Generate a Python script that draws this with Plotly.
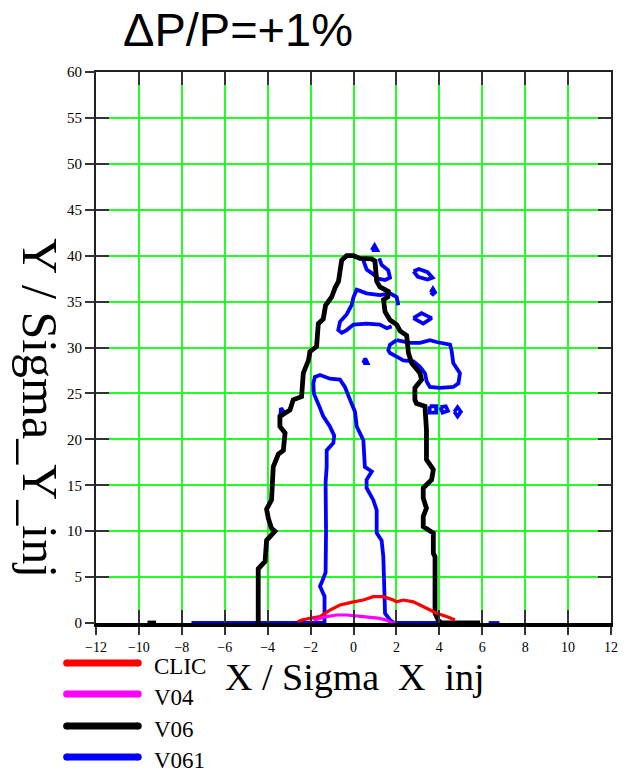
import plotly.graph_objects as go

# ---------------- data ----------------
x_ticks = [-12, -10, -8, -6, -4, -2, 0, 2, 4, 6, 8, 10, 12]
y_ticks = [0, 5, 10, 15, 20, 25, 30, 35, 40, 45, 50, 55, 60]

series_names = ["CLIC", "V04", "V06", "V061"]
series_colors = ["#ff0000", "#ff00ff", "#000000", "#0000ff"]

clic_x = [-2.6, -2.42, -2.03, -1.56, -1.1, -0.63, 0.0, 0.46, 0.92, 1.39, 1.86, 2.0, 2.32, 2.79, 3.41, 3.87, 4.34, 4.73]
clic_y = [0.15, 0.33, 0.5, 0.7, 1.4, 1.96, 2.3, 2.5, 2.87, 2.87, 2.5, 2.3, 2.5, 2.3, 1.6, 1.06, 0.7, 0.33]

v04_x = [-1.87, -1.25, -0.79, -0.32, 0.46, 1.23, 1.55, 1.78, 2.0]
v04_y = [0.3, 0.7, 0.87, 0.87, 0.7, 0.5, 0.3, 0.05, 0.0]

v06_x = [-9.6, -9.2, None,
         5.9, 4.1, 3.95, 3.8, 3.8, 3.72, 3.72, 3.25, 3.25, 3.4, 3.25, 3.25, 3.64, 3.72, 3.4, 3.4,
         3.33, 2.94, 2.86, 2.86, 3.17, 3.1, 2.71, 2.56, 2.48, 2.17, 2.01, 1.7, 1.47, 1.4, 1.6,
         1.62, 1.23, 1.08, 1.0, 0.85, 0.3, 0.0, -0.32, -0.55, -0.63, -0.7, -0.86, -1.02, -1.3,
         -1.41, -1.64, -1.72, -2.03, -2.1, -2.34, -2.42, -2.81, -2.96, -3.43, -3.43, -3.19,
         -3.27, -3.5, -3.74, -3.82, -4.05, -3.97, -3.82, -3.66, -4.05, -4.12, -4.28, -4.44, -4.44, -4.44]
v06_y = [0.0, 0.0, None,
         0.0, 0.0, 0.3, 1.06, 7.2, 7.6, 9.8, 10.5, 11.6, 12.5, 13.6, 14.7, 15.6, 16.7, 17.8, 21.0,
         23.6, 23.9, 24.3, 25.6, 26.5, 27.2, 28.3, 29.4, 31.3, 31.8, 32.5, 33.0, 33.9, 35.2, 35.5,
         36.1, 36.6, 37.2, 39.4, 39.65, 39.7, 40.0, 40.0, 39.5, 38.3, 37.2, 36.5, 35.5, 34.6,
         33.1, 32.6, 30.1, 29.55, 28.6, 27.2, 24.65, 24.3, 23.2, 22.5, 21.4, 20.7,
         18.8, 18.4, 17.0, 13.4, 12.4, 11.4, 10.3, 10.0, 9.0, 6.7, 6.3, 5.9, 0.5, 0.0]

v061_x = [
    # main strip with base line
    -7.55, -1.35, -1.35, -1.56, -1.45, -1.3, -1.28, -1.3, -1.25, -1.25, -0.94, -0.9, -1.1, -1.41,
    -1.56, -1.72, -1.85, -1.87, -1.8, -1.56, -1.1, -0.63, -0.4, -0.16, 0.07, 0.15, 0.46, 0.53,
    0.85, 0.61, 0.61, 0.92, 1.08, 1.08, 1.31, 1.39, 1.47, 1.7, 1.86, 4.0, None,
    6.3, 6.8, None,
    # loop round the black top corner
    0.46, 0.61, 0.85, 1.16, 1.47, 1.7, 1.62, 1.31, 1.2, None,
    # blob at the top
    0.85, 0.98, 1.1, 0.85, None,
    # middle horizontal loop
    2.09, 2.01, 1.7, 1.23, 0.61, 0.15, 0.0, -0.09, -0.32, -0.63, -0.71, -0.55, -0.32, 0.0, 0.61,
    1.23, 1.55, 1.78, None,
    # upper right oval
    2.8, 3.05, 3.45, 3.68, 3.45, 3.0, 2.8, None,
    # small blob
    3.6, 3.7, 3.8, 3.7, 3.6, None,
    # lower right oval
    2.79, 3.17, 3.64, 3.25, 2.79, None,
    # right structure
    2.01, 2.63, 3.1, 3.56, 3.87, 4.5, 4.57, 4.65, 4.96, 4.89, 4.65, 4.03, 3.56, 3.41, 3.33, 3.1,
    2.79, 2.32, 2.01, 1.7, 1.62, 1.7, 2.01, None,
    # three small loops
    3.55, 3.85, 3.85, 3.55, 3.55, None,
    4.05, 4.3, 4.4, 4.15, 4.05, None,
    4.7, 4.85, 5.0, 4.85, 4.7, None,
    # small mark on the left
    -3.42, -3.38, -3.25, None,
    # dot
    0.45, 0.55, 0.65, 0.45,
]
v061_y = [
    0.0, 0.0, 2.9, 4.0, 4.6, 5.5, 10.0, 15.3, 17.0, 18.8, 19.6, 20.4, 21.4, 22.5,
    23.4, 24.3, 25.0, 26.1, 26.8, 27.0, 26.6, 26.5, 25.7, 24.3, 23.0, 21.4, 19.9, 17.0,
    16.5, 15.6, 14.7, 13.4, 12.3, 9.8, 9.0, 7.2, 1.06, 0.33, 0.05, 0.0, None,
    0.0, 0.0, None,
    39.5, 38.5, 38.1, 37.5, 37.35, 37.6, 38.4, 39.0, 39.7, None,
    40.6, 41.1, 40.6, 40.6, None,
    34.6, 35.5, 35.9, 35.7, 35.9, 36.3, 35.5, 34.6, 33.6, 32.8, 31.9, 31.6, 31.9, 32.5, 32.6,
    32.5, 32.1, 32.3, None,
    38.3, 38.55, 38.2, 37.6, 37.4, 37.7, 38.3, None,
    36.0, 36.4, 36.0, 35.8, 36.0, None,
    33.2, 33.75, 33.2, 32.6, 33.2, None,
    30.8, 30.5, 30.5, 30.8, 30.6, 30.3, 29.7, 28.3, 27.2, 26.1, 25.7, 25.6, 25.7, 26.3, 27.2, 27.9,
    28.5, 28.6, 29.0, 29.4, 29.7, 30.3, 30.8, None,
    23.6, 23.6, 22.9, 22.9, 23.6, None,
    23.5, 23.6, 23.1, 22.9, 23.5, None,
    23.0, 23.5, 23.0, 22.5, 23.0, None,
    22.2, 23.4, 23.0, None,
    28.3, 28.8, 28.3, 28.3,
]

# ---------------- figure ----------------
SERIF = "Liberation Serif, Times New Roman, serif"
SANS = "Liberation Sans, Arial, sans-serif"

fig = go.Figure()
fig.add_trace(go.Scatter(x=v061_x, y=v061_y, mode="lines", name="V061",
                         line=dict(color=series_colors[3], width=3.8), connectgaps=False))
fig.add_trace(go.Scatter(x=v06_x, y=v06_y, mode="lines", name="V06",
                         line=dict(color=series_colors[2], width=4.8), connectgaps=False))
fig.add_trace(go.Scatter(x=clic_x, y=clic_y, mode="lines", name="CLIC",
                         line=dict(color=series_colors[0], width=3.2)))
fig.add_trace(go.Scatter(x=v04_x, y=v04_y, mode="lines", name="V04",
                         line=dict(color=series_colors[1], width=3.2)))
# helper trace for the outer tick axes
fig.add_trace(go.Scatter(x=[None], y=[None], xaxis="x2", yaxis="y2",
                         showlegend=False, hoverinfo="skip"))

fig.update_layout(
    width=634, height=777,
    margin=dict(l=96, r=23, t=72, b=154),
    paper_bgcolor="white", plot_bgcolor="white",
    showlegend=False,
    xaxis=dict(range=[-12, 12], tickvals=x_ticks, showticklabels=False,
               ticks="inside", ticklen=13, tickwidth=2, tickcolor="#333333",
               showgrid=True, gridcolor="#22ff22", gridwidth=2, zeroline=False,
               showline=True, linecolor="#222222", linewidth=2, mirror="ticks"),
    yaxis=dict(range=[0, 60], tickvals=y_ticks, showticklabels=False,
               ticks="inside", ticklen=13, tickwidth=2, tickcolor="#333333",
               showgrid=True, gridcolor="#22ff22", gridwidth=2, zeroline=False,
               showline=True, linecolor="#222222", linewidth=2, mirror="ticks"),
    xaxis2=dict(overlaying="x", anchor="y2", side="bottom", range=[-12, 12],
                tickvals=x_ticks, ticks="outside", ticklen=8, tickwidth=2,
                tickcolor="#333333", showgrid=False, zeroline=False,
                showline=True, linecolor="#000000", linewidth=4,
                tickfont=dict(family=SERIF, size=14, color="black")),
    yaxis2=dict(overlaying="y", anchor="x2", side="left", range=[0, 60],
                tickvals=y_ticks, ticks="outside", ticklen=10, tickwidth=2,
                tickcolor="#333333", showgrid=False, zeroline=False, showline=False,
                tickfont=dict(family=SERIF, size=15, color="black")),
)

annotations = [
    dict(text="ΔP/P=+1%", xref="paper", yref="paper", x=0.276, y=1.078,
         xanchor="center", yanchor="middle", showarrow=False,
         font=dict(family=SANS, size=47, color="black")),
    dict(text="X / Sigma\u00a0\u00a0X\u00a0\u00a0inj", xref="paper", yref="paper",
         x=0.503, y=-0.098, xanchor="center", yanchor="middle", showarrow=False,
         font=dict(family=SERIF, size=38, color="black")),
    dict(text="Y / Sigma_Y_inj", xref="paper", yref="paper", x=-0.109, y=0.39,
         xanchor="center", yanchor="middle", showarrow=False, textangle=90,
         font=dict(family=SERIF, size=50, color="black")),
]

# manual legend (lines with rounded ends)
legend_y = [-0.0726, -0.1289, -0.187, -0.243]
lx0, lx1 = -0.057, 0.082
shapes = []
for name, color, ly in zip(series_names, series_colors, legend_y):
    shapes.append(dict(type="line", xref="paper", yref="paper", x0=lx0, x1=lx1,
                       y0=ly, y1=ly, line=dict(color=color, width=7)))
    for cx in (lx0, lx1):
        shapes.append(dict(type="circle", xref="paper", yref="paper",
                           xsizemode="pixel", ysizemode="pixel",
                           xanchor=cx, yanchor=ly, x0=-3.5, x1=3.5, y0=-3.5, y1=3.5,
                           fillcolor=color, line=dict(width=0)))
    annotations.append(dict(text=name, xref="paper", yref="paper", x=0.109, y=ly - 0.007,
                            xanchor="left", yanchor="middle", showarrow=False,
                            font=dict(family=SERIF, size=23, color="black")))

fig.update_layout(annotations=annotations, shapes=shapes)

fig.write_html("out.html")
